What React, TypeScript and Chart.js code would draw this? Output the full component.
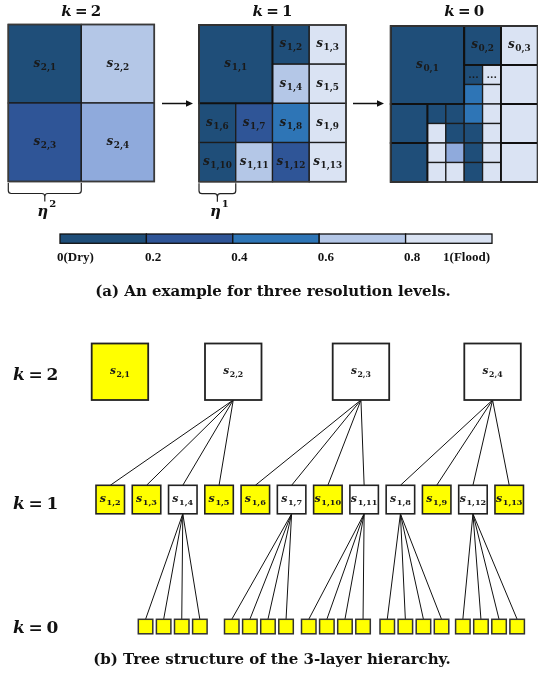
import { useEffect, useRef } from 'react';
import { Chart, registerables } from 'chart.js';

Chart.register(...registerables);

const W = 538;
const H = 675;

// ---------- data ----------
// level k = 2: 2x2 regions, [col, row]
const L2_LABELS = ['2,1', '2,2', '2,3', '2,4'];
const L2_CELLS = [[0, 0], [1, 0], [0, 1], [1, 1]];
const L2_FLOOD = [0.1, 0.7, 0.3, 0.6];

// level k = 1: 4x4 grid, [col, row, span]
const L1_LABELS = ['1,1', '1,2', '1,3', '1,4', '1,5', '1,6', '1,7', '1,8', '1,9', '1,10', '1,11', '1,12', '1,13'];
const L1_CELLS = [
  [0, 0, 2], [2, 0, 1], [3, 0, 1], [2, 1, 1], [3, 1, 1],
  [0, 2, 1], [1, 2, 1], [2, 2, 1], [3, 2, 1],
  [0, 3, 1], [1, 3, 1], [2, 3, 1], [3, 3, 1],
];
const L1_FLOOD = [0.1, 0.1, 0.9, 0.7, 0.9, 0.1, 0.3, 0.5, 0.9, 0.1, 0.7, 0.3, 0.9];

// level k = 0: 8x8 grid, [col, row, span]
const L0_CELLS = [
  [0, 0, 4], [4, 0, 2], [6, 0, 2],
  [4, 2, 1], [5, 2, 1], [4, 3, 1], [5, 3, 1], [6, 2, 2],
  [0, 4, 2], [2, 4, 1], [3, 4, 1], [2, 5, 1], [3, 5, 1],
  [4, 4, 1], [5, 4, 1], [4, 5, 1], [5, 5, 1], [6, 4, 2],
  [0, 6, 2], [2, 6, 1], [3, 6, 1], [2, 7, 1], [3, 7, 1],
  [4, 6, 1], [5, 6, 1], [4, 7, 1], [5, 7, 1], [6, 6, 2],
];
const L0_FLOOD = [
  0.1, 0.1, 0.9,
  0.1, 0.9, 0.5, 0.9, 0.9,
  0.1, 0.1, 0.1, 0.9, 0.1,
  0.5, 0.9, 0.1, 0.9, 0.9,
  0.1, 0.9, 0.6, 0.9, 0.9,
  0.1, 0.9, 0.1, 0.9, 0.9,
];
const L0_LABELS = [
  's0,1', 's0,2', 's0,3',
  '...', '...', '', '', '',
  '', '', '', '', '',
  '', '', '', '', '',
  '', '', '', '', '',
  '', '', '', '', '',
];

// colour scale
const SCALE_EDGES = [0, 0.2, 0.4, 0.6, 0.8, 1];
const SCALE_TICKS = ['0(Dry)', '0.2', '0.4', '0.6', '0.8', '1(Flood)'];

// tree of the hierarchy
const T2_NODES = ['2,1', '2,2', '2,3', '2,4'];
const T2_REFINED = [false, true, true, true];
const T1_NODES = ['1,2', '1,3', '1,4', '1,5', '1,6', '1,7', '1,10', '1,11', '1,8', '1,9', '1,12', '1,13'];
const T1_PARENT = [1, 1, 1, 1, 2, 2, 2, 2, 3, 3, 3, 3];
const T1_REFINED = [false, false, true, false, false, true, false, true, true, false, true, false];
const CHILDREN_PER_NODE = 4;

const LEVEL_NAMES = ['2', '1', '0'];

// ---------- layout ----------
const GRID_K2 = { x: 8.3, y: 24.5, w: 146, h: 157, n: 2 };
const GRID_K1 = { x: 199, y: 25, w: 147, h: 156.7, n: 4 };
const GRID_K0 = { x: 390.7, y: 26, w: 147, h: 156, n: 8 };
const TITLE_Y = 11;
const ARROWS = [[162, 193], [353, 384]];
const ARROW_Y = 103.5;
const BAR = { x: 60, y: 234, w: 432, h: 9.3, labelY: 258 };
const CAPTION_A = { x: 273, y: 292 };
const CAPTION_B = { x: 272, y: 660 };

const ROW_Y = [343.5, 485.3, 619.3];
const ROW_LABEL_Y = [374, 503, 627];
const T2_X = [91.7, 205, 332.7, 464.3];
const T2_SIZE = 56.5;
const T1_X0 = 96;
const T1_STEP = 36.27;
const T1_SIZE = 28.5;
const T0_GROUP_X = [138.3, 224.5, 301.5, 380, 455.6];
const T0_STEP = 18.1;
const T0_SIZE = 14.5;

const MATH = '"DejaVu Serif"';
const TEXT = '"DejaVu Serif"';

function floodColor(v: number) {
  if (v < 0.2) return '#1f4e79';
  if (v < 0.4) return '#2f5597';
  if (v < 0.6) return '#2e75b6';
  if (v < 0.65) return '#8faadc';
  if (v < 0.8) return '#b4c7e7';
  return '#dae3f3';
}

const diagramPlugin = {
  id: 'hierarchyDiagram',
  afterDraw(chart: any) {
    const ctx: CanvasRenderingContext2D = chart.ctx;
    const xs = chart.scales.x;
    const ys = chart.scales.y;
    const X = (v: number) => xs.getPixelForValue(v);
    const Y = (v: number) => ys.getPixelForValue(v);

    const fillRect = (x: number, y: number, w: number, h: number, fill: string, stroke: string, lw: number) => {
      const px = X(x), py = Y(y), pw = X(x + w) - px, ph = Y(y + h) - py;
      ctx.fillStyle = fill;
      ctx.fillRect(px, py, pw, ph);
      ctx.strokeStyle = stroke;
      ctx.lineWidth = lw;
      ctx.strokeRect(px, py, pw, ph);
    };

    // s with a subscript, centred at (cx, cy)
    const mathLabel = (cx: number, cy: number, sub: string, size: number) => {
      const baseFont = `italic bold ${size}px ${MATH}`;
      const subSize = size * 0.74;
      const subFont = `bold ${subSize}px ${MATH}`;
      ctx.font = baseFont;
      const bw = ctx.measureText('s').width;
      ctx.font = subFont;
      const sw = ctx.measureText(sub).width;
      const total = bw + 0.6 + sw;
      const x0 = X(cx) - total / 2;
      const base = Y(cy) + size * 0.24;
      ctx.fillStyle = '#1a1a1a';
      ctx.textAlign = 'left';
      ctx.textBaseline = 'alphabetic';
      ctx.font = baseFont;
      ctx.fillText('s', x0, base);
      ctx.font = subFont;
      ctx.fillText(sub, x0 + bw + 0.6, base + size * 0.24);
    };

    // "k = n" equation
    const levelEq = (x: number, cy: number, n: string, size: number, align: 'left' | 'center') => {
      const kFont = `italic bold ${size}px ${MATH}`;
      const rFont = `bold ${size}px ${MATH}`;
      ctx.font = kFont;
      const kw = ctx.measureText('k').width;
      ctx.font = rFont;
      const ew = ctx.measureText('=').width;
      const nw = ctx.measureText(n).width;
      const gap = size * 0.22;
      const total = kw + gap + ew + gap + nw;
      let x0 = align === 'center' ? X(x) - total / 2 : X(x);
      const base = Y(cy) + size * 0.36;
      ctx.fillStyle = '#111';
      ctx.textAlign = 'left';
      ctx.textBaseline = 'alphabetic';
      ctx.font = kFont;
      ctx.fillText('k', x0, base);
      x0 += kw + gap;
      ctx.font = rFont;
      ctx.fillText('=', x0, base);
      x0 += ew + gap;
      ctx.fillText(n, x0, base);
    };

    const drawGrid = (g: any, cells: number[][], flood: number[], labels: (string | null)[], labelSize: number, blockSpan: number) => {
      const cw = g.w / g.n, ch = g.h / g.n;
      cells.forEach((c, i) => {
        const span = c[2] ?? 1;
        fillRect(g.x + c[0] * cw, g.y + c[1] * ch, span * cw, span * ch, floodColor(flood[i]), '#1c1c1c', 1.3);
      });
      // heavier lines on the block boundaries
      if (blockSpan > 1) {
        ctx.strokeStyle = '#111';
        ctx.lineWidth = 1.8;
        cells.forEach((c) => {
          const span = c[2] ?? 1;
          if (span >= blockSpan) {
            ctx.strokeRect(X(g.x + c[0] * cw), Y(g.y + c[1] * ch), X(g.x + (c[0] + span) * cw) - X(g.x + c[0] * cw), Y(g.y + (c[1] + span) * ch) - Y(g.y + c[1] * ch));
          }
        });
      }
      ctx.strokeStyle = '#3a3a3a';
      ctx.lineWidth = 1.6;
      ctx.strokeRect(X(g.x), Y(g.y), X(g.x + g.w) - X(g.x), Y(g.y + g.h) - Y(g.y));
      cells.forEach((c, i) => {
        const lab = labels[i];
        if (!lab) return;
        const span = c[2] ?? 1;
        const cx = g.x + (c[0] + span / 2) * cw;
        const cy = g.y + (c[1] + span / 2) * ch;
        if (lab === '...') {
          ctx.fillStyle = '#1a1a1a';
          ctx.font = `bold 10px ${TEXT}`;
          ctx.textAlign = 'center';
          ctx.textBaseline = 'middle';
          ctx.fillText('...', X(cx), Y(cy) + 1);
        } else {
          mathLabel(cx, cy, lab.replace(/^s/, ''), labelSize);
        }
      });
    };

    ctx.save();

    // ---------- (a) three resolution levels ----------
    drawGrid(GRID_K2, L2_CELLS, L2_FLOOD, L2_LABELS, 12, 1);
    drawGrid(GRID_K1, L1_CELLS, L1_FLOOD, L1_LABELS, 12, 2);
    drawGrid(GRID_K0, L0_CELLS, L0_FLOOD, L0_LABELS, 12, 2);

    [GRID_K2, GRID_K1, GRID_K0].forEach((g, i) => {
      levelEq(g.x + g.w / 2, TITLE_Y, LEVEL_NAMES[i], 15, 'center');
    });

    // arrows between levels
    ARROWS.forEach(([a, b]) => {
      ctx.strokeStyle = '#111';
      ctx.lineWidth = 1.5;
      ctx.beginPath();
      ctx.moveTo(X(a), Y(ARROW_Y));
      ctx.lineTo(X(b) - 5, Y(ARROW_Y));
      ctx.stroke();
      ctx.fillStyle = '#111';
      ctx.beginPath();
      ctx.moveTo(X(b), Y(ARROW_Y));
      ctx.lineTo(X(b) - 7, Y(ARROW_Y) - 3.2);
      ctx.lineTo(X(b) - 7, Y(ARROW_Y) + 3.2);
      ctx.closePath();
      ctx.fill();
    });

    // braces marking one cell width, eta^k
    [GRID_K2, GRID_K1].forEach((g, i) => {
      const x0 = X(g.x), x1 = X(g.x + g.w / g.n);
      const top = Y(g.y + g.h) + 1.5;
      const bot = top + 10.5;
      const mid = (x0 + x1) / 2;
      ctx.strokeStyle = '#222';
      ctx.lineWidth = 1.2;
      ctx.beginPath();
      ctx.moveTo(x0, top);
      ctx.lineTo(x0, bot - 3);
      ctx.quadraticCurveTo(x0, bot, x0 + 3, bot);
      ctx.lineTo(mid - 3, bot);
      ctx.quadraticCurveTo(mid, bot, mid, bot + 3);
      ctx.lineTo(mid, bot + 8);
      ctx.moveTo(mid, bot + 3);
      ctx.quadraticCurveTo(mid, bot, mid + 3, bot);
      ctx.lineTo(x1 - 3, bot);
      ctx.quadraticCurveTo(x1, bot, x1, bot - 3);
      ctx.lineTo(x1, top);
      ctx.stroke();

      const etaFont = `italic bold 15px ${MATH}`;
      const supFont = `bold 10px ${MATH}`;
      ctx.font = etaFont;
      const ew = ctx.measureText('η').width;
      ctx.font = supFont;
      const sw = ctx.measureText(LEVEL_NAMES[i]).width;
      const sx = mid + 2 - (ew + sw + 1) / 2;
      ctx.fillStyle = '#111';
      ctx.textAlign = 'left';
      ctx.textBaseline = 'alphabetic';
      ctx.font = etaFont;
      ctx.fillText('η', sx, Y(216));
      ctx.font = supFont;
      ctx.fillText(LEVEL_NAMES[i], sx + ew + 1, Y(207));
    });

    // colour bar
    for (let i = 0; i < SCALE_EDGES.length - 1; i++) {
      const a = BAR.x + SCALE_EDGES[i] * BAR.w;
      const b = BAR.x + SCALE_EDGES[i + 1] * BAR.w;
      fillRect(a, BAR.y, b - a, BAR.h, floodColor((SCALE_EDGES[i] + SCALE_EDGES[i + 1]) / 2), '#111', 1.3);
    }
    ctx.fillStyle = '#111';
    ctx.font = `bold 13px "Liberation Serif"`;
    ctx.textBaseline = 'middle';
    SCALE_TICKS.forEach((t, i) => {
      const ex = BAR.x + SCALE_EDGES[i] * BAR.w;
      if (i === 0) {
        ctx.textAlign = 'left';
        ctx.fillText(t, X(ex - 3), Y(BAR.labelY));
      } else if (i === SCALE_TICKS.length - 1) {
        ctx.textAlign = 'right';
        ctx.fillText(t, X(ex - 2), Y(BAR.labelY));
      } else {
        ctx.textAlign = 'left';
        ctx.fillText(t, X(ex - 1.5), Y(BAR.labelY));
      }
    });

    ctx.font = `bold 15px ${TEXT}`;
    ctx.textAlign = 'center';
    ctx.textBaseline = 'middle';
    ctx.fillStyle = '#111';
    ctx.fillText('(a) An example for three resolution levels.', X(CAPTION_A.x), Y(CAPTION_A.y));

    // ---------- (b) tree ----------
    LEVEL_NAMES.forEach((n, i) => levelEq(13, ROW_LABEL_Y[i], n, 17, 'left'));

    const t1x = (i: number) => T1_X0 + i * T1_STEP;

    // edges level 2 -> level 1
    ctx.strokeStyle = '#111';
    ctx.lineWidth = 1;
    T1_NODES.forEach((_, i) => {
      const p = T1_PARENT[i];
      ctx.beginPath();
      ctx.moveTo(X(T2_X[p] + T2_SIZE / 2), Y(ROW_Y[0] + T2_SIZE));
      ctx.lineTo(X(t1x(i) + T1_SIZE / 2), Y(ROW_Y[1]));
      ctx.stroke();
    });

    // edges level 1 -> level 0, and the leaves
    let group = 0;
    const leaves: number[] = [];
    T1_NODES.forEach((_, i) => {
      if (!T1_REFINED[i]) return;
      for (let j = 0; j < CHILDREN_PER_NODE; j++) {
        const lx = T0_GROUP_X[group] + j * T0_STEP;
        leaves.push(lx);
        ctx.beginPath();
        ctx.moveTo(X(t1x(i) + T1_SIZE / 2), Y(ROW_Y[1] + T1_SIZE));
        ctx.lineTo(X(lx + T0_SIZE / 2), Y(ROW_Y[2]));
        ctx.stroke();
      }
      group++;
    });

    const YELLOW = '#ffff00';
    T2_NODES.forEach((lab, i) => {
      fillRect(T2_X[i], ROW_Y[0], T2_SIZE, T2_SIZE, T2_REFINED[i] ? '#ffffff' : YELLOW, '#222', 1.8);
      mathLabel(T2_X[i] + T2_SIZE / 2, ROW_Y[0] + T2_SIZE / 2, lab, 10.5);
    });
    T1_NODES.forEach((lab, i) => {
      fillRect(t1x(i), ROW_Y[1], T1_SIZE, T1_SIZE, T1_REFINED[i] ? '#ffffff' : YELLOW, '#222', 1.6);
      mathLabel(t1x(i) + T1_SIZE / 2, ROW_Y[1] + T1_SIZE / 2, lab, 11);
    });
    leaves.forEach((lx) => {
      fillRect(lx, ROW_Y[2], T0_SIZE, T0_SIZE, YELLOW, '#333', 1.5);
    });

    ctx.font = `bold 15px ${TEXT}`;
    ctx.textAlign = 'center';
    ctx.textBaseline = 'middle';
    ctx.fillStyle = '#111';
    ctx.fillText('(b) Tree structure of the 3-layer hierarchy.', X(CAPTION_B.x), Y(CAPTION_B.y));

    ctx.restore();
  },
};

export default function App() {
  const ref = useRef<HTMLCanvasElement | null>(null);

  useEffect(() => {
    const canvas = ref.current;
    if (!canvas) return;
    const chart = new Chart(canvas, {
      type: 'scatter',
      data: { datasets: [] },
      options: {
        animation: false,
        responsive: false,
        devicePixelRatio: 1,
        layout: { padding: 0 },
        plugins: { legend: { display: false }, tooltip: { enabled: false } },
        scales: {
          x: { type: 'linear', min: 0, max: W, display: false },
          y: { type: 'linear', min: 0, max: H, reverse: true, display: false },
        },
      },
      plugins: [diagramPlugin],
    });
    return () => chart.destroy();
  }, []);

  return (
    <canvas
      ref={ref}
      width={W}
      height={H}
      style={{ position: 'absolute', left: 0, top: 0, width: W, height: H, background: '#ffffff' }}
    />
  );
}
